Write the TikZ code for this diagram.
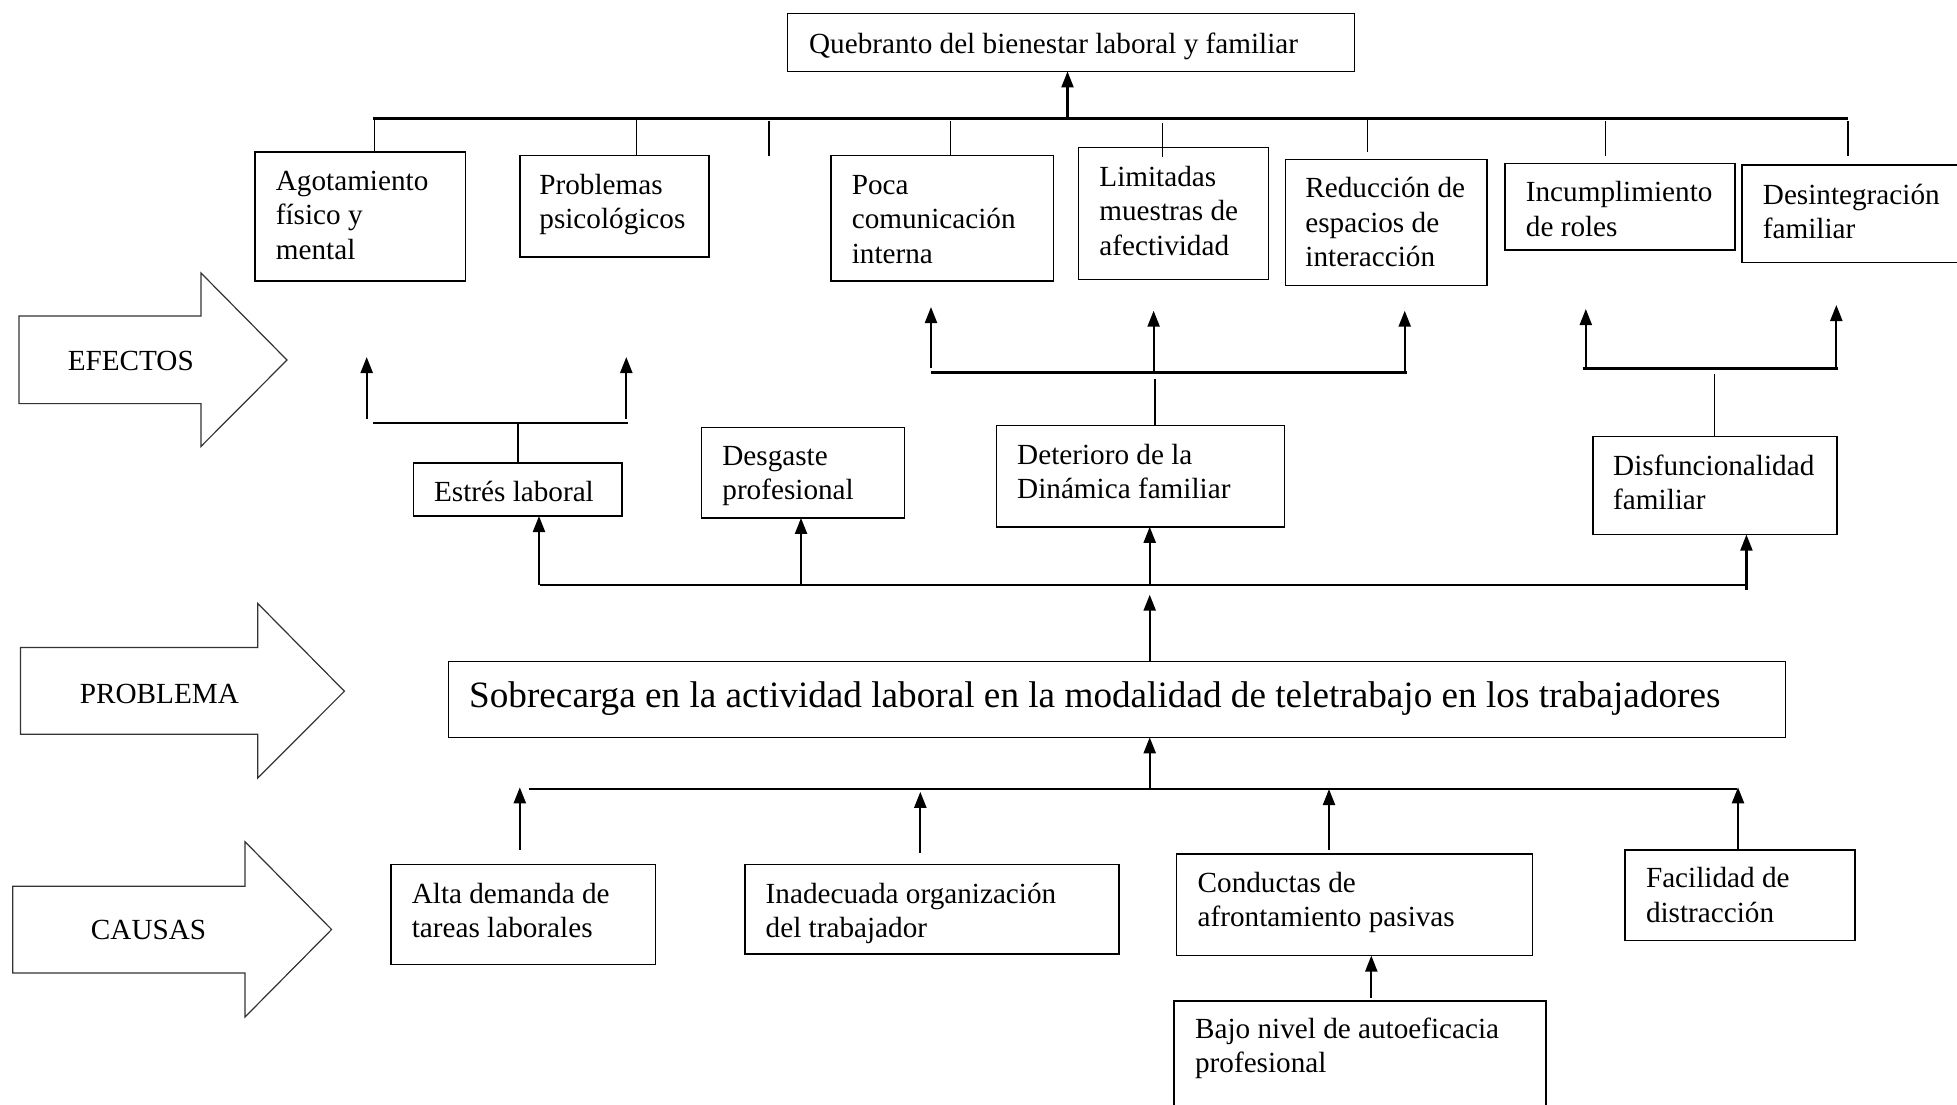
\documentclass[tikz,border=0pt]{standalone}
\usepackage{fontspec}
\setmainfont{Liberation Serif}
\usetikzlibrary{arrows.meta,fit}
\newcommand{\mlines}[1]{\vtop{\halign{##\hfil\cr#1\crcr}}}
\begin{document}
\begin{tikzpicture}[x=0.5pt,y=-0.5pt,
  box/.style={draw, line width=0.7pt, inner sep=0pt, outer sep=0pt},
  txt/.style={anchor=base west, inner sep=0pt, font=\fontsize{14.6pt}{17.25pt}\selectfont},
  bigtxt/.style={anchor=base west, inner sep=0pt, font=\fontsize{18.6pt}{22pt}\selectfont},
  side/.style={anchor=base, inner sep=0pt, font=\fontsize{14.6pt}{17.25pt}\selectfont},
  thinln/.style={line width=0.7pt},
  bus/.style={line width=1.3pt},
  arr/.style={line width=1.1pt, -{Triangle[length=8pt,width=6pt]}},
  blockarrow/.style={draw=black!80, line width=0.6pt}]
\useasboundingbox (0,0) rectangle (1957,1104);
\clip (0,0) rectangle (1957,1104);

% ---------- block arrows ----------
\draw[blockarrow] (19,316) -- (201,316) -- (201,273) -- (287,360) -- (201,446.4) -- (201,403.6) -- (19,403.6) -- cycle;
\node[side] (lefectos) at (130.8,370) {EFECTOS};
\draw[blockarrow] (20.4,647.4) -- (257.7,647.4) -- (257.7,603.4) -- (344.4,691.2) -- (257.7,778) -- (257.7,734.2) -- (20.4,734.2) -- cycle;
\node[side] (lproblema) at (159.4,703.6) {PROBLEMA};
\draw[blockarrow] (12.8,886.2) -- (245,886.2) -- (245,841.7) -- (331.6,929.5) -- (245,1017) -- (245,973) -- (12.8,973) -- cycle;
\node[side] (lcausas) at (148.6,939.5) {CAUSAS};

% ---------- top ----------
\node[box, fit={(787.6,13.2)(1354.6,71.4)}] (q) {};
\node[txt] (tq-t) at (808.7,53) {Quebranto del bienestar laboral y familiar};

\node[box, fit={(255,151.8)(465.6,281)}] (agot) {};
\node[txt] (agot-t) at (275.5,190) {\mlines{Agotamiento\cr físico y\cr mental}};
\node[box, fit={(519.8,155.7)(709,257)}] (prob) {};
\node[txt] (prob-t) at (539,194) {\mlines{Problemas\cr psicológicos}};
\node[box, fit={(831,155.7)(1053.4,281)}] (poca) {};
\node[txt] (poca-t) at (851.4,194) {\mlines{Poca\cr comunicación\cr interna}};
\node[box, fit={(1078.5,147.5)(1268.6,279.6)}] (limit) {};
\node[txt] (limit-t) at (1099,186) {\mlines{Limitadas\cr muestras de\cr afectividad}};
\node[box, fit={(1285.3,159.3)(1487,285.7)}] (reduc) {};
\node[txt] (reduc-t) at (1305,197.5) {\mlines{Reducción de\cr espacios de\cr interacción}};
\node[box, fit={(1505,163.2)(1734.8,250)}] (incum) {};
\node[txt] (incum-t) at (1525.5,201.8) {\mlines{Incumplimiento\cr de roles}};
\node[box, fit={(1741.9,165)(1980,262.5)}] (desin) {};
\node[txt] (desin-t) at (1762.5,204) {\mlines{Desintegración\cr familiar}};

\coordinate (tbL) at (373,118.6);
\coordinate (tbR) at (1847.9,118.6);
\draw[bus] (tbL) -- (tbR);
\coordinate (tq) at (1067.5,118.6);
\draw[arr] (tq) -- (tq |- q.south);

\coordinate (d1) at (374.4,118.6);
\draw[thinln] (d1) -- (d1 |- agot.north);
\coordinate (d2) at (636.5,118.6);
\draw[thinln] (d2) -- (d2 |- prob.north);
\coordinate (d3a) at (769,121.4); \coordinate (d3b) at (769,156);
\draw[thinln] (d3a) -- (d3b);
\coordinate (d4) at (950.3,121.4);
\draw[thinln] (d4) -- (d4 |- poca.north);
\coordinate (d5a) at (1162.6,123); \coordinate (d5b) at (1162.6,157);
\draw[thinln] (d5a) -- (d5b);
\coordinate (d6a) at (1367.5,117); \coordinate (d6b) at (1367.5,151.8);
\draw[thinln] (d6a) -- (d6b);
\coordinate (d7a) at (1605.7,121.4); \coordinate (d7b) at (1605.7,155.7);
\draw[thinln] (d7a) -- (d7b);
\coordinate (d8a) at (1847.9,121.4); \coordinate (d8b) at (1847.9,155.7);
\draw[thinln] (d8a) -- (d8b);

% ---------- effects level ----------
\node[box, fit={(413.3,462.9)(621.8,516)}] (estres) {};
\node[txt] (estres-t) at (433.7,501) {Estrés laboral};
\node[box, fit={(701.5,427.5)(904.3,517.9)}] (desg) {};
\node[txt] (desg-t) at (722,465.4) {\mlines{Desgaste\cr profesional}};
\node[box, fit={(996.2,425.7)(1284.6,526.8)}] (deter) {};
\node[txt] (deter-t) at (1016.8,464.3) {\mlines{Deterioro de la\cr Dinámica familiar}};
\node[box, fit={(1593,436.4)(1837,534.6)}] (disf) {};
\node[txt] (disf-t) at (1612.8,475) {\mlines{Disfuncionalidad\cr familiar}};

% Estres group
\coordinate (eL) at (373,423); \coordinate (eR) at (628,423);
\draw[bus] (eL) -- (eR);
\coordinate (ea1) at (366.7,418.6); \coordinate (ea1t) at (366.7,357);
\draw[arr] (ea1) -- (ea1t);
\coordinate (ea2) at (626.3,418.6); \coordinate (ea2t) at (626.3,357);
\draw[arr] (ea2) -- (ea2t);
\coordinate (ev) at (517.9,423);
\draw[thinln] (ev) -- (ev |- estres.north);

% Deterioro group
\coordinate (gL) at (931,372.5); \coordinate (gR) at (1407.3,372.5);
\draw[bus] (gL) -- (gR);
\coordinate (ga1) at (931,368); \coordinate (ga1t) at (931,307);
\draw[arr] (ga1) -- (ga1t);
\coordinate (ga2) at (1153.6,372.5); \coordinate (ga2t) at (1153.6,310.7);
\draw[arr] (ga2) -- (ga2t);
\coordinate (ga3) at (1404.7,372.5); \coordinate (ga3t) at (1404.7,310.7);
\draw[arr] (ga3) -- (ga3t);
\coordinate (gv) at (1154.9,378.6);
\draw[thinln] (gv) -- (gv |- deter.north);

% Disfuncionalidad group
\coordinate (fL) at (1582.6,368.6); \coordinate (fR) at (1837.6,368.6);
\draw[bus] (fL) -- (fR);
\coordinate (fa1) at (1585.8,368); \coordinate (fa1t) at (1585.8,309);
\draw[arr] (fa1) -- (fa1t);
\coordinate (fa2) at (1836.3,368); \coordinate (fa2t) at (1836.3,305);
\draw[arr] (fa2) -- (fa2t);
\coordinate (fv) at (1714.3,374.3);
\draw[thinln] (fv) -- (fv |- disf.north);

% effects bus
\coordinate (ebL) at (540.2,585); \coordinate (ebR) at (1746.4,585);
\draw[bus] (ebL) -- (ebR);
\coordinate (eb1) at (539,585);
\draw[arr] (eb1) -- (eb1 |- estres.south);
\coordinate (eb2) at (801,585);
\draw[arr] (eb2) -- (eb2 |- desg.south);
\coordinate (eb3) at (1149.7,585);
\draw[arr] (eb3) -- (eb3 |- deter.south);
\coordinate (eb4) at (1746.4,589.5);
\draw[arr] (eb4) -- (eb4 |- disf.south);

% ---------- problem ----------
\node[box, fit={(448.3,661.3)(1785.6,737.3)}] (sobre) {};
\node[bigtxt] (sobre-t) at (468.8,707.8) {Sobrecarga en la actividad laboral en la modalidad de teletrabajo en los trabajadores};
\coordinate (sa) at (1149.7,594.7);
\draw[arr] (sa |- sobre.north) -- (sa);

% ---------- causes ----------
\coordinate (cbL) at (529.3,789); \coordinate (cbR) at (1736.8,789);
\draw[bus] (cbL) -- (cbR);
\coordinate (cb0) at (1149.7,789);
\draw[arr] (cb0) -- (cb0 |- sobre.south);

\node[box, fit={(391,864.6)(655.6,964.2)}] (alta) {};
\node[txt] (alta-t) at (411.4,903) {\mlines{Alta demanda de\cr tareas laborales}};
\node[box, fit={(745,864.6)(1119,953.8)}] (inad) {};
\node[txt] (inad-t) at (765.3,903) {\mlines{Inadecuada organización\cr del trabajador}};
\node[box, fit={(1176.7,853.9)(1532.5,955.6)}] (cond) {};
\node[txt] (cond-t) at (1197.3,892) {\mlines{Conductas de\cr afrontamiento pasivas}};
\node[box, fit={(1625,850)(1855,940.6)}] (faci) {};
\node[txt] (faci-t) at (1645.6,887.5) {\mlines{Facilidad de\cr distracción}};
\node[box, fit={(1174,1001)(1546,1120)}] (bajo) {};
\node[txt] (bajo-t) at (1194.7,1038.4) {\mlines{Bajo nivel de autoeficacia\cr profesional}};

\coordinate (ca1) at (519.8,849.7); \coordinate (ca1t) at (519.8,787.3);
\draw[arr] (ca1) -- (ca1t);
\coordinate (ca2) at (920.3,853); \coordinate (ca2t) at (920.3,791.8);
\draw[arr] (ca2) -- (ca2t);
\coordinate (ca3) at (1329,849.7); \coordinate (ca3t) at (1329,789);
\draw[arr] (ca3) -- (ca3t);
\coordinate (ca4) at (1738,848.7); \coordinate (ca4t) at (1738,787.3);
\draw[arr] (ca4) -- (ca4t);

\coordinate (ba) at (1371.3,998);
\draw[arr] (ba) -- (ba |- cond.south);
\end{tikzpicture}
\end{document}
